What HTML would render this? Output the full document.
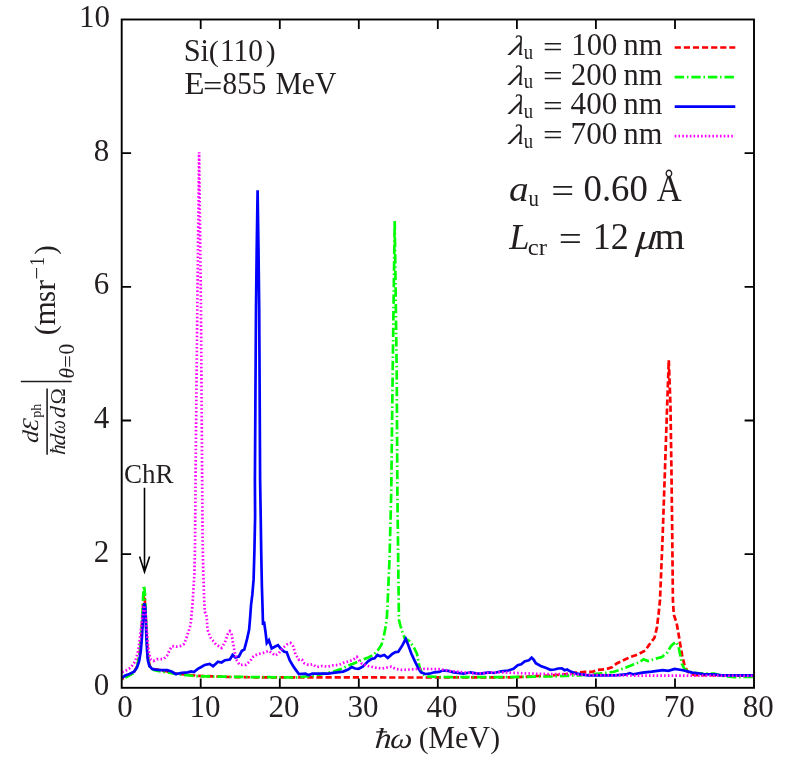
<!DOCTYPE html>
<html><head><meta charset="utf-8"><title>Spectral distribution</title>
<style>
html,body{margin:0;padding:0;background:#fff;}
svg{display:block;will-change:transform;}
text{font-family:"Liberation Serif",serif;fill:#231f20;}
.i{font-style:italic;}
</style></head><body>
<svg width="789" height="774" viewBox="0 0 789 774">
<rect x="0" y="0" width="789" height="774" fill="#fff"/>

<clipPath id="cp"><rect x="121.7" y="19.5" width="632.3" height="668.3"/></clipPath>
<g clip-path="url(#cp)" fill="none" stroke-linejoin="miter">
<polyline points="121.9,679.0 127.3,676.0 133.5,673.0 137.4,666.0 139.7,654.0 141.3,637.0 142.5,615.0 143.5,598.0 144.0,594.8 144.8,600.0 146.0,622.0 147.0,643.0 148.2,659.0 149.8,666.0 153.7,669.2 161.4,670.5 167.6,671.5 175.4,673.5 190.0,675.0 198.0,675.8 230.0,677.0 255.0,677.3 400.0,677.5 510.0,677.4 523.9,676.9 537.9,676.0 551.8,675.5 565.8,674.1 575.5,672.7 585.3,671.9 592.3,671.9 597.8,669.9 606.2,669.1 611.8,667.4 616.7,663.5 622.4,660.7 629.7,657.3 637.1,654.8 645.3,650.5 649.0,645.0 654.5,637.7 656.9,627.6 658.7,612.9 660.0,600.0 662.5,540.0 664.8,474.5 667.1,407.0 668.8,360.2 670.5,407.0 671.5,474.5 672.3,540.0 672.9,600.0 673.8,614.7 676.6,623.0 678.4,633.1 680.2,644.1 682.1,655.1 684.5,665.2 687.6,671.7 694.0,675.0 754.0,675.8" stroke="#ff0000" stroke-width="2.7" stroke-dasharray="6.2 2.9" stroke-dashoffset="4.14"/>
<polyline points="121.9,679.5 127.3,676.5 133.5,673.0 137.4,666.0 139.7,653.0 141.3,635.0 142.5,610.0 143.5,590.0 144.0,585.5 144.8,592.0 146.0,618.0 147.0,642.0 148.2,659.0 149.8,666.5 153.7,670.0 161.4,671.5 167.6,672.5 175.4,674.0 190.0,675.5 198.0,676.3 255.0,677.1 295.6,677.5 305.6,676.5 313.9,675.8 323.7,673.7 333.5,671.6 341.8,668.8 347.4,666.0 354.4,663.2 361.3,660.4 368.3,657.4 373.9,654.6 378.1,650.0 381.6,644.4 383.7,636.7 385.3,628.4 386.7,620.0 387.3,610.0 389.5,560.0 391.2,494.0 392.7,370.0 394.7,220.9 396.7,370.0 397.4,494.0 398.2,560.0 398.8,610.0 399.0,620.0 400.4,625.6 402.5,632.5 404.6,638.1 409.2,640.9 413.4,646.5 416.9,653.5 418.2,660.4 419.6,667.4 422.4,673.7 427.3,676.5 439.9,677.0 510.0,677.2 537.9,676.5 551.8,676.5 565.8,675.8 579.7,675.3 593.6,674.1 607.6,672.7 613.9,671.8 622.4,668.9 631.5,665.2 638.9,662.5 643.5,659.2 648.1,661.0 655.4,658.8 661.9,657.0 667.4,652.4 671.1,645.9 675.7,641.9 678.4,645.9 680.2,655.1 682.1,664.3 684.8,669.5 692.2,672.6 703.2,673.5 714.2,673.5 721.6,675.7 734.5,677.2 754.0,676.8" stroke="#00ff00" stroke-width="2.7" stroke-dasharray="9.4 2.8 1.5 2.9" stroke-dashoffset="12.79"/>
<polyline points="121.9,678.0 124.8,675.8 129.4,674.0 134.0,671.8 136.8,667.8 139.1,661.5 140.8,651.2 142.0,636.4 142.9,619.6 143.7,606.7 144.5,603.4 145.3,608.0 145.9,625.0 146.5,638.7 147.1,651.2 147.9,660.4 149.4,666.1 152.2,668.9 155.6,669.7 161.3,670.1 167.0,670.1 171.6,671.5 175.6,674.0 181.9,672.9 187.6,672.3 191.0,671.5 193.9,672.0 197.8,668.9 201.3,667.0 204.7,664.9 209.6,663.9 213.1,666.3 218.0,661.8 221.5,662.5 225.0,660.2 229.9,659.5 232.6,654.9 235.4,657.4 238.9,656.5 241.9,650.8 244.3,649.5 247.1,638.9 249.1,629.9 250.1,618.2 251.0,605.3 252.3,594.9 253.6,579.4 254.4,551.4 255.1,516.5 254.9,480.0 255.4,400.0 256.0,308.0 256.7,250.0 257.6,190.2 258.5,250.0 259.2,308.0 259.7,400.0 260.1,480.0 260.7,516.5 261.2,551.4 261.9,586.3 262.6,609.5 263.0,624.9 264.0,621.4 265.4,631.2 266.8,643.0 268.9,640.2 270.3,644.4 271.7,648.6 275.2,646.5 278.0,645.1 280.7,648.6 284.2,651.8 286.7,652.3 289.8,660.4 294.0,667.4 298.9,674.1 305.6,673.7 308.4,675.1 312.5,673.7 320.9,673.7 327.9,673.7 334.9,672.7 343.2,671.6 348.1,669.5 351.6,667.1 355.1,668.5 358.6,668.8 362.7,666.7 368.3,661.1 371.8,658.8 374.6,658.3 377.4,654.9 380.2,656.2 384.3,654.9 387.8,657.9 392.0,654.2 395.5,652.1 398.3,651.8 402.5,645.1 405.7,638.8 407.8,643.9 411.3,653.5 414.8,661.1 418.2,668.1 421.0,672.3 425.2,674.0 429.4,673.7 434.3,672.3 439.2,671.9 442.6,670.5 448.2,670.9 453.8,672.3 463.6,673.7 470.5,672.3 476.1,673.3 481.0,673.7 488.6,672.3 494.2,673.0 501.2,671.3 508.2,670.5 513.5,668.8 517.7,665.3 521.2,664.3 524.6,661.5 528.8,660.4 531.6,657.6 533.7,659.7 535.8,663.2 540.7,666.0 546.2,668.1 550.4,669.8 554.6,669.5 558.1,668.5 561.9,668.4 564.6,670.2 567.2,669.5 570.6,671.6 576.9,673.7 588.1,675.3 596.4,675.5 607.6,675.3 615.0,675.4 626.0,674.4 629.7,673.1 633.4,674.4 642.6,672.6 651.8,671.7 662.8,670.2 668.3,670.8 674.7,668.9 683.0,670.2 692.2,672.6 703.2,674.1 714.2,674.4 721.6,675.4 754.0,675.4" stroke="#0000ff" stroke-width="2.7"/>
<polyline points="121.9,672.3 126.0,670.6 130.5,667.8 134.0,663.2 136.3,658.1 138.0,651.2 139.4,642.1 140.8,630.7 142.4,616.0 144.1,605.3 145.7,614.4 146.5,625.0 147.4,638.7 148.6,651.2 150.5,659.2 153.4,660.9 156.8,659.2 163.6,659.0 167.0,655.8 169.9,649.5 172.2,646.1 176.2,646.7 180.2,646.1 183.6,644.4 185.9,639.8 187.6,634.1 189.9,627.3 191.0,621.2 192.8,600.2 194.4,574.7 195.1,539.8 195.6,470.0 197.4,300.0 199.1,152.2 200.9,300.0 202.1,470.0 202.6,539.8 203.3,574.7 204.2,600.2 204.9,611.9 206.2,613.5 206.9,620.0 207.5,629.8 210.3,637.4 215.9,644.4 221.5,647.9 225.0,642.3 227.8,633.9 229.9,631.2 231.5,633.2 232.9,642.3 234.7,652.1 236.8,660.4 239.6,664.9 245.9,664.9 250.1,661.1 253.6,656.2 257.7,654.2 263.3,652.8 268.9,650.9 272.4,653.5 275.2,655.5 278.7,653.5 282.1,648.6 287.0,644.4 290.5,643.0 293.3,646.5 295.4,654.2 298.9,659.7 300.5,659.0 302.1,659.7 304.2,663.2 308.4,664.9 312.5,664.3 316.7,667.1 322.3,666.0 327.9,666.7 333.5,665.3 339.0,664.9 343.2,662.9 348.8,661.5 353.0,659.7 356.9,656.9 359.2,660.4 362.0,663.9 368.3,666.0 375.3,667.7 382.3,668.5 387.8,667.4 391.3,666.7 395.5,668.8 401.8,669.9 410.0,669.5 418.9,668.8 438.5,669.1 449.6,670.9 463.6,672.3 477.5,673.7 488.6,672.7 502.6,672.3 510.0,672.7 523.9,673.3 537.9,673.8 551.8,674.1 565.8,674.1 579.7,674.6 620.0,675.5 754.0,675.8" stroke="#ff00ff" stroke-width="2.7" stroke-dasharray="1.6 2.17" stroke-dashoffset="3.49"/>
</g>
<g stroke="#000" fill="none">
<rect x="121.7" y="19.5" width="632.3" height="668.3" stroke-width="1.9"/>
<path d="M200.7 687.8v-9.4M200.7 19.5v9.4M279.8 687.8v-9.4M279.8 19.5v9.4M358.8 687.8v-9.4M358.8 19.5v9.4M437.8 687.8v-9.4M437.8 19.5v9.4M516.9 687.8v-9.4M516.9 19.5v9.4M595.9 687.8v-9.4M595.9 19.5v9.4M675.0 687.8v-9.4M675.0 19.5v9.4M121.7 554.1h9.4M754.0 554.1h-9.4M121.7 420.5h9.4M754.0 420.5h-9.4M121.7 286.8h9.4M754.0 286.8h-9.4M121.7 153.2h9.4M754.0 153.2h-9.4" stroke-width="1.8"/>
</g>
<g font-size="31">
<text x="125.1" y="717.3" text-anchor="middle">0</text>
<text x="204.9" y="717.3" text-anchor="middle">10</text>
<text x="284.0" y="717.3" text-anchor="middle">20</text>
<text x="363.0" y="717.3" text-anchor="middle">30</text>
<text x="442.0" y="717.3" text-anchor="middle">40</text>
<text x="521.1" y="717.3" text-anchor="middle">50</text>
<text x="600.1" y="717.3" text-anchor="middle">60</text>
<text x="679.2" y="717.3" text-anchor="middle">70</text>
<text x="758.2" y="717.3" text-anchor="middle">80</text>
<text x="109.2" y="695.2" text-anchor="end">0</text>
<text x="109.2" y="561.5" text-anchor="end">2</text>
<text x="109.2" y="427.9" text-anchor="end">4</text>
<text x="109.2" y="294.2" text-anchor="end">6</text>
<text x="109.2" y="160.6" text-anchor="end">8</text>
<text x="109.9" y="26.9" text-anchor="end">10</text>
</g>
<text transform="translate(374.51,748.20) scale(1.135,1.000) skewX(-4)" font-size="29" class="i">h</text>
<path d="M376.3 731.9H387.1" stroke="#231f20" stroke-width="1.3"/>
<text transform="translate(389.86,748.20) scale(1.080,1.000) skewX(-4)" font-size="29" class="i">ω</text>
<text transform="translate(418.80,748.00) scale(0.955,0.940)" font-size="31">(</text>
<text transform="translate(428.13,748.00) scale(0.973,1.000)" font-size="31">MeV</text>
<text transform="translate(490.15,748.00) scale(0.955,0.940)" font-size="31">)</text>
<text transform="translate(183.66,60.70) scale(0.983,1.000)" font-size="31">Si</text>
<text transform="translate(208.87,60.70) scale(0.980,0.940)" font-size="31">(</text>
<text transform="translate(219.91,60.70) scale(0.951,1.000)" font-size="31">110</text>
<text transform="translate(265.85,60.70) scale(0.955,0.940)" font-size="31">)</text>
<text transform="translate(184.24,93.90) scale(1.073,1.000)" font-size="31">E</text>
<text transform="translate(202.99,95.73) scale(1.109,0.950)" font-size="31">=</text>
<text transform="translate(222.59,93.90) scale(0.941,1.000)" font-size="31">855</text>
<text transform="translate(275.44,93.90) scale(0.959,1.000)" font-size="31">MeV</text>
<text x="123.99" y="482.80" font-size="27">ChR</text>
<path d="M144.5 487.8V572.5M139.6 556.4L144.5 571.9L149.6 556.4" stroke="#000" stroke-width="1.6" fill="none"/>
<text transform="translate(508.35,54.90) scale(1.247,1.000) skewX(-11)" font-size="28" class="i">λ</text>
<text transform="translate(523.75,58.80) scale(0.892,1.000)" font-size="21">u</text>
<text transform="translate(543.07,56.73) scale(1.123,0.950)" font-size="31">=</text>
<text transform="translate(571.30,54.90) scale(0.991,1.000)" font-size="31">100</text>
<text transform="translate(623.50,54.90) scale(0.981,1.000)" font-size="31">nm</text>
<path d="M674.7 47.5H735.3" stroke="#ff0000" stroke-width="2.7" fill="none" stroke-dasharray="6.2 2.9"/>
<text transform="translate(508.35,84.50) scale(1.247,1.000) skewX(-11)" font-size="28" class="i">λ</text>
<text transform="translate(523.75,88.40) scale(0.892,1.000)" font-size="21">u</text>
<text transform="translate(543.07,86.33) scale(1.123,0.950)" font-size="31">=</text>
<text x="570.84" y="84.50" font-size="31">200</text>
<text transform="translate(623.50,84.50) scale(0.981,1.000)" font-size="31">nm</text>
<path d="M674.7 77.1H735.3" stroke="#00ff00" stroke-width="2.7" fill="none" stroke-dasharray="9.4 2.8 1.5 2.9"/>
<text transform="translate(508.35,114.00) scale(1.247,1.000) skewX(-11)" font-size="28" class="i">λ</text>
<text transform="translate(523.75,117.90) scale(0.892,1.000)" font-size="21">u</text>
<text transform="translate(543.07,115.83) scale(1.123,0.950)" font-size="31">=</text>
<text transform="translate(570.59,114.00) scale(1.006,1.000)" font-size="31">400</text>
<text transform="translate(623.50,114.00) scale(0.981,1.000)" font-size="31">nm</text>
<path d="M674.7 106.6H735.3" stroke="#0000ff" stroke-width="2.7" fill="none"/>
<text transform="translate(508.35,143.60) scale(1.247,1.000) skewX(-11)" font-size="28" class="i">λ</text>
<text transform="translate(523.75,147.50) scale(0.892,1.000)" font-size="21">u</text>
<text transform="translate(543.07,145.43) scale(1.123,0.950)" font-size="31">=</text>
<text transform="translate(570.54,143.60) scale(1.007,1.000)" font-size="31">700</text>
<text transform="translate(623.50,143.60) scale(0.981,1.000)" font-size="31">nm</text>
<path d="M674.7 136.2H733.3" stroke="#ff00ff" stroke-width="2.7" fill="none" stroke-dasharray="1.6 2.17"/>
<text transform="translate(508.93,200.60) scale(1.107,1.000)" font-size="35.5" class="i">a</text>
<text transform="translate(528.42,206.00) scale(0.869,1.000)" font-size="24">u</text>
<text transform="translate(551.18,202.78) scale(1.098,0.950)" font-size="37">=</text>
<text transform="translate(583.50,200.60) scale(0.995,1.000)" font-size="37">0.60</text>
<text transform="translate(656.76,200.60) scale(0.935,1.000)" font-size="37">Å</text>
<text transform="translate(509.23,248.60) scale(1.043,1.000)" font-size="35" class="i">L</text>
<text transform="translate(527.76,254.50) scale(1.033,1.000)" font-size="24">cr</text>
<text transform="translate(558.66,250.78) scale(1.109,0.950)" font-size="37">=</text>
<text transform="translate(592.73,248.60) scale(0.975,1.000)" font-size="37">12</text>
<text transform="translate(635.54,248.60) scale(1.105,1.000) skewX(-5)" font-size="37" class="i">μ</text>
<text transform="translate(654.58,248.60) scale(1.054,1.000)" font-size="37">m</text>
<g transform="rotate(-90)">
<text transform="translate(-443.24,37.60) scale(1.092,1.000) skewX(-4)" font-size="22.5" class="i">d</text>
<text transform="translate(-431.25,37.60) scale(1.103,1.000) skewX(-4)" font-size="22.5" class="i">Ɛ</text>
<text transform="translate(-417.63,40.80) scale(0.966,1.000)" font-size="14.5">ph</text>
<path d="M-454.8 47.1H-388.4" stroke="#231f20" stroke-width="1.6"/>
<text transform="translate(-455.04,65.10) scale(0.949,1.000) skewX(-4)" font-size="21.7" class="i">ħ</text>
<text transform="translate(-445.79,65.10) scale(1.044,1.000) skewX(-4)" font-size="21.7" class="i">d</text>
<text transform="translate(-434.04,65.10) scale(0.887,1.000) skewX(-4)" font-size="21.7" class="i">ω</text>
<text transform="translate(-418.19,65.10) scale(1.044,1.000) skewX(-4)" font-size="21.7" class="i">d</text>
<text transform="translate(-404.53,65.10) scale(1.009,1.000)" font-size="21.7">Ω</text>
<path d="M-381.5 20.8V71.7" stroke="#231f20" stroke-width="1.5"/>
<text transform="translate(-378.44,74.10) scale(0.979,1.000)" font-size="21.7" class="i">θ</text>
<text transform="translate(-367.95,74.98) scale(1.060,0.950)" font-size="21.7">=</text>
<text transform="translate(-354.52,73.80) scale(0.954,1.000)" font-size="22.5">0</text>
<text transform="translate(-335.22,54.90) scale(0.967,0.940)" font-size="31">(</text>
<text transform="translate(-325.46,54.90) scale(1.014,1.000)" font-size="31">m</text>
<text transform="translate(-301.96,54.90) scale(0.910,1.000)" font-size="31">s</text>
<text transform="translate(-290.64,54.90) scale(1.039,1.000)" font-size="31">r</text>
<text transform="translate(-279.73,43.90) scale(1.050,1.000)" font-size="21.7">−</text>
<text transform="translate(-265.90,43.90) scale(0.838,1.000)" font-size="21.7">1</text>
<text transform="translate(-254.73,54.90) scale(0.929,0.940)" font-size="31">)</text>
</g>
</svg></body></html>
